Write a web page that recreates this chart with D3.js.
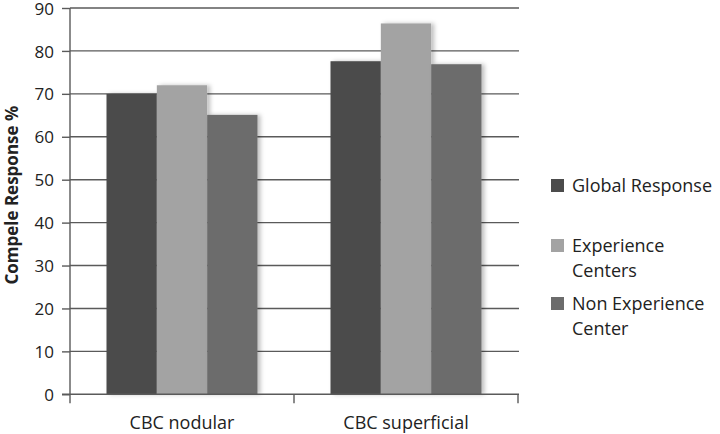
<!DOCTYPE html>
<html><head><meta charset="utf-8">
<script src="https://cdn.jsdelivr.net/npm/d3@7/dist/d3.min.js"></script>
<style>html,body{margin:0;padding:0;background:#fff;}svg{display:block;}</style>
</head><body>
<svg id="c" width="720" height="434"></svg>
<script>
const categories = ["CBC nodular", "CBC superficial"];
const seriesNames = ["Global Response", "Experience Centers", "Non Experience Center"];
const globalResponse = [70.0, 77.6];
const experienceCenters = [72.0, 86.4];
const nonExperienceCenter = [65.1, 76.9];
const yTicks = [0, 10, 20, 30, 40, 50, 60, 70, 80, 90];
const legendLines = [["Global Response"], ["Experience", "Centers"], ["Non Experience", "Center"]];
const colors = ["#4b4b4b", "#a3a3a3", "#6c6c6c"];

(function () {
const seriesValues = [globalResponse, experienceCenters, nonExperienceCenter];
const svg = d3.select("#c");
const font = "'Open Sans', 'Noto Sans', sans-serif";
const pl = 70, pr = 518, pt = 8, pb = 394.3;

const defs = svg.append("defs");
const f = defs.append("filter").attr("id", "sh").attr("x", "-20%").attr("y", "-5%").attr("width", "150%").attr("height", "110%");
f.append("feDropShadow").attr("dx", 3).attr("dy", 0).attr("stdDeviation", 2).attr("flood-color", "#000").attr("flood-opacity", 0.25);

const x0 = d3.scaleBand().domain(categories).range([pl, pr]).paddingInner(0.326).paddingOuter(0.163);
const x1 = d3.scaleBand().domain(d3.range(seriesNames.length)).range([0, x0.bandwidth()]);
const y = d3.scaleLinear().domain([0, 90]).range([pb, pt]);

svg.append("g").selectAll("line").data(yTicks.filter(t => t > 0)).join("line")
  .attr("x1", pl).attr("x2", pr + 1)
  .attr("y1", d => y(d)).attr("y2", d => y(d))
  .attr("stroke", "#5a5a5a").attr("stroke-width", 1.4);

const g = svg.append("g");
categories.forEach((c, ci) => {
  seriesValues.forEach((vals, si) => {
    g.append("rect")
      .attr("x", x0(c) + x1(si))
      .attr("y", y(vals[ci]))
      .attr("width", x1.bandwidth())
      .attr("height", y(0) - y(vals[ci]))
      .attr("fill", colors[si])
      .attr("filter", "url(#sh)");
  });
});

const yAxis = d3.axisLeft(y).tickValues(yTicks).tickSize(8).tickPadding(8);
const ya = svg.append("g").attr("transform", `translate(${pl},0)`).call(yAxis);
ya.select(".domain").remove();
ya.selectAll(".tick line").attr("stroke", "#5a5a5a").attr("stroke-width", 1.4);
ya.selectAll(".tick text").attr("font-family", font).attr("font-size", 17).attr("fill", "#222").attr("dy", "0.36em");
svg.append("line").attr("x1", pl).attr("x2", pl).attr("y1", pt).attr("y2", pb + 9)
  .attr("stroke", "#5a5a5a").attr("stroke-width", 1.4);

svg.append("line").attr("x1", pl - 8).attr("x2", pr + 1).attr("y1", pb).attr("y2", pb)
  .attr("stroke", "#5a5a5a").attr("stroke-width", 1.4);
const bounds = categories.map(c => x0(c) - x0.step() * 0.163).concat([pr]);
svg.append("g").selectAll("line").data(bounds.slice(1)).join("line")
  .attr("x1", d => d).attr("x2", d => d).attr("y1", pb).attr("y2", pb + 9)
  .attr("stroke", "#5a5a5a").attr("stroke-width", 1.4);
svg.append("g").selectAll("text").data(categories).join("text")
  .attr("x", d => x0(d) + x0.bandwidth() / 2).attr("y", 429)
  .attr("text-anchor", "middle").attr("font-family", font).attr("font-size", 18).attr("fill", "#222")
  .text(d => d);

svg.append("text").attr("transform", `translate(18,${(pt + pb) / 2 - 6}) rotate(-90)`)
  .attr("text-anchor", "middle").attr("font-family", font).attr("font-size", 17).attr("font-weight", "bold")
  .attr("fill", "#222").text("Compele Response %");

const legY = [185, 245, 303];
const lg = svg.append("g");
legendLines.forEach((lines, i) => {
  lg.append("rect").attr("x", 551).attr("y", legY[i] - 6).attr("width", 13).attr("height", 13).attr("fill", colors[i]);
  lines.forEach((t, j) => {
    lg.append("text").attr("x", 572).attr("y", legY[i] + j * 25 + 7)
      .attr("font-family", font).attr("font-size", 18).attr("fill", "#222").text(t);
  });
});
})();
</script>
</body></html>
